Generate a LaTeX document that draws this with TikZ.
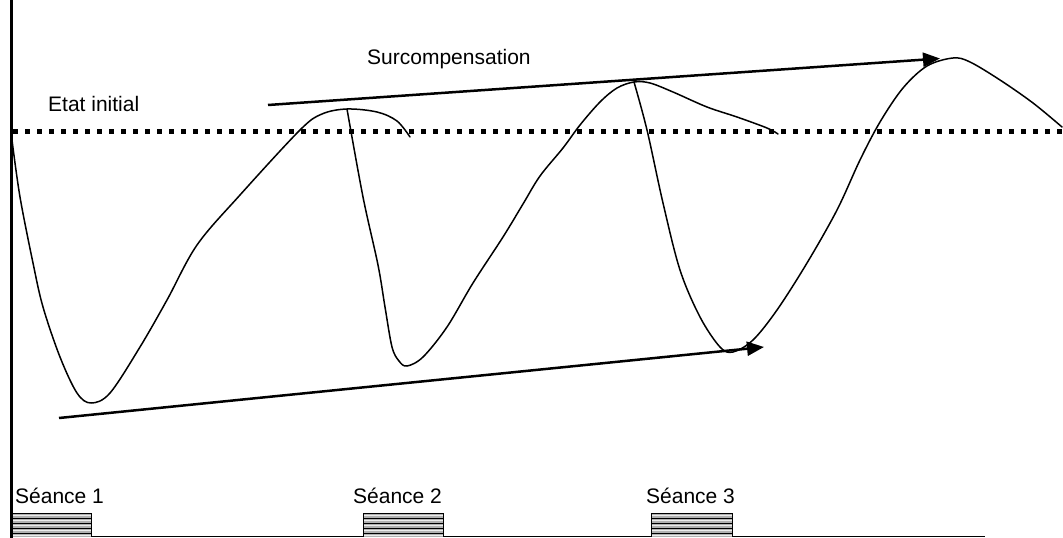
\documentclass[tikz,border=0pt]{standalone}
\usepackage{fontspec}
\setmainfont{Liberation Sans}
\usetikzlibrary{arrows.meta}
\begin{document}
\begin{tikzpicture}[x=1pt,y=-1pt,
  curve/.style={line width=1.5pt, line join=round, line cap=round},
  trend/.style={line width=2.5pt, -{Triangle[length=17pt,width=14pt]}},
  lbl/.style={anchor=base west, inner sep=0pt, font=\fontsize{21}{25}\selectfont},
  axis/.style={line width=3pt},
  baseline/.style={line width=1pt},
  initial/.style={line width=5pt, dash pattern=on 5pt off 7pt},
  boxedge/.style={line width=1pt},
]
\useasboundingbox (0,0) rectangle (1063,538);
% axes
\draw[axis] (11,0) -- (11,538);
\draw[baseline] (10,536.5) -- (985,536.5);
% initial state dotted line
\draw[initial] (13,131) -- (1063,131);
% labels
\node[lbl] (etat) at (48,111.5) {Etat initial};
\node[lbl] (surcomp) at (367,64) {Surcompensation};
\node[lbl] (s1) at (15,503) {Séance 1};
\node[lbl] (s2) at (353,503) {Séance 2};
\node[lbl] (s3) at (646,503) {Séance 3};
% sessions
\foreach \xa/\xb in {12/91,363/443,651/732} {
  \fill[gray!60] (\xa,513) rectangle (\xb,537);
  \foreach \yy in {513,518,...,537} \draw[line width=1pt] (\xa,\yy) -- (\xb,\yy);
  \foreach \yy in {515.5,520.5,...,537} \draw[line width=0.8pt, white!85!gray] (\xa,\yy) -- (\xb,\yy);
  \draw[boxedge] (\xa,537) -- (\xa,513) -- (\xb,513) -- (\xb,537);
}
% trend arrows
\coordinate (topA) at (268,105);
\coordinate (topB) at (940,58.5);
\coordinate (botA) at (59,418);
\coordinate (botB) at (764,347);
\draw[trend] (topA) -- (topB);
\draw[trend] (botA) -- (botB);
% curve strokes
\draw[curve] plot[smooth, tension=0.55] coordinates {
  (12,140) (20,197) (33,263) (43,307) (60,357) (77,393) (91,403) (110,393)
  (140,347) (167,300) (197,245) (240,195) (300,130) (322,114)
  (347,109) (377,112) (397,121) (410,137)};
\draw[curve] plot[smooth, tension=0.55] coordinates {
  (347,109) (363,197) (378,265) (385,307) (392,347) (399,361) (407,366)
  (423,357) (447,327) (473,283) (503,237) (523,204) (540,176) (563,148)
  (580,125) (600,102) (617,88) (634,82) (650,83) (673,92) (707,107)
  (737,117) (767,128) (778,134)};
\draw[curve] plot[smooth, tension=0.55] coordinates {
  (634,82) (647,130) (663,203) (680,270) (700,317) (720,347) (733,352)
  (753,340) (777,310) (807,263) (837,210) (860,160) (880,122) (903,88)
  (927,66) (953,58) (970,62) (1000,80) (1033,103) (1062,127)};
\end{tikzpicture}
\end{document}
